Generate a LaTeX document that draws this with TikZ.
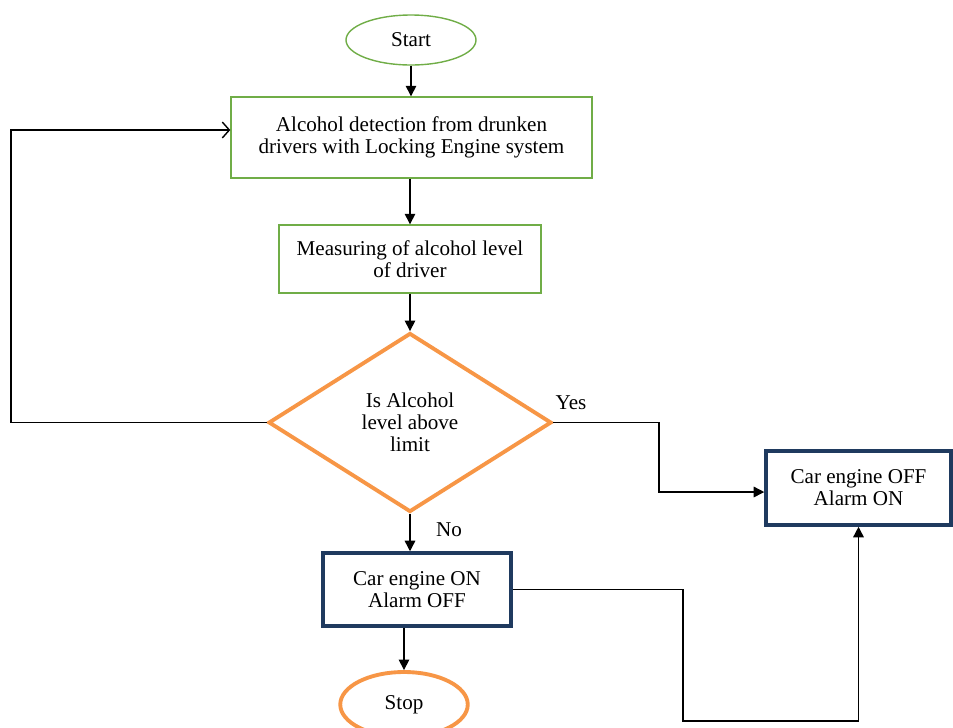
\documentclass[tikz,border=0pt]{standalone}
\usepackage{fontspec}
\setmainfont{Liberation Serif}
\usetikzlibrary{shapes.geometric,arrows.meta}

\definecolor{boxgreen}{HTML}{70AD47}
\definecolor{decorange}{HTML}{F79646}
\definecolor{boxnavy}{HTML}{1F3A5F}

\tikzset{
  txt/.style={font=\fontsize{12}{12.5}\selectfont,align=center},
  termgreen/.style={ellipse,draw=boxgreen,line width=0.8pt,txt,minimum width=2.6cm,minimum height=1.0cm},
  termorange/.style={ellipse,draw=decorange,line width=2.2pt,txt,minimum width=2.55cm,minimum height=1.3cm},
  procbox/.style={rectangle,draw=boxgreen,line width=0.8pt,txt},
  outbox/.style={rectangle,draw=boxnavy,line width=2pt,txt},
  decbox/.style={diamond,draw=decorange,line width=2.2pt,txt,aspect=1.58,inner sep=0pt,minimum width=5.66cm,minimum height=3.58cm},
  flow/.style={line width=0.8pt,-{Triangle[length=6pt,width=6pt]}},
  loopline/.style={line width=0.8pt,-{Straight Barb[length=4pt,width=9pt]}}
}

\begin{document}
\begin{tikzpicture}[line join=miter]
  \useasboundingbox (0,0) rectangle (19.06,-14.54);
  \node[termgreen] (start) at (8.22,-0.80) {Start};
  \node[procbox,minimum width=7.22cm,minimum height=1.62cm] (detect) at (8.23,-2.75)
    {Alcohol detection from drunken\\drivers with Locking Engine system};
  \node[procbox,minimum width=5.24cm,minimum height=1.36cm] (measure) at (8.20,-5.18)
    {Measuring of alcohol level\\of driver};
  \node[decbox] (dec) at (8.20,-8.45) {Is Alcohol\\level above\\limit};
  \node[outbox,minimum width=3.70cm,minimum height=1.48cm] (off) at (17.17,-9.76)
    {Car engine OFF\\Alarm ON};
  \node[outbox,minimum width=3.76cm,minimum height=1.46cm] (on) at (8.34,-11.79)
    {Car engine ON\\Alarm OFF};
  \node[termorange] (stop) at (8.08,-14.09) {Stop};
  \coordinate (loopL) at (0.22,-2.60);
  \coordinate (yesbend) at (13.18,-8.45);
  \coordinate (lowbend) at (13.66,-14.42);
  % main line
  \draw[flow] (start.south) -- (start.south |- detect.north);
  \draw[flow] (measure.north |- detect.south) -- (measure.north);
  \draw[flow] (measure) -- (dec);
  \draw[flow] (dec.south) -- (dec.south |- on.north);
  \draw[flow] (on.south -| stop.north) -- (stop.north);
  % branches
  \draw[loopline] (dec.west) -| (loopL) -- (loopL -| detect.west);
  \draw[flow] (dec.east) -- (yesbend) |- ([yshift=-0.08cm]off.west);
  \draw[flow] (on.east) -| (lowbend) -| (off.south);
  \node[txt] (yes) at (11.42,-8.06) {Yes};
  \node[txt] (no) at (8.98,-10.60) {No};
\end{tikzpicture}
\end{document}
